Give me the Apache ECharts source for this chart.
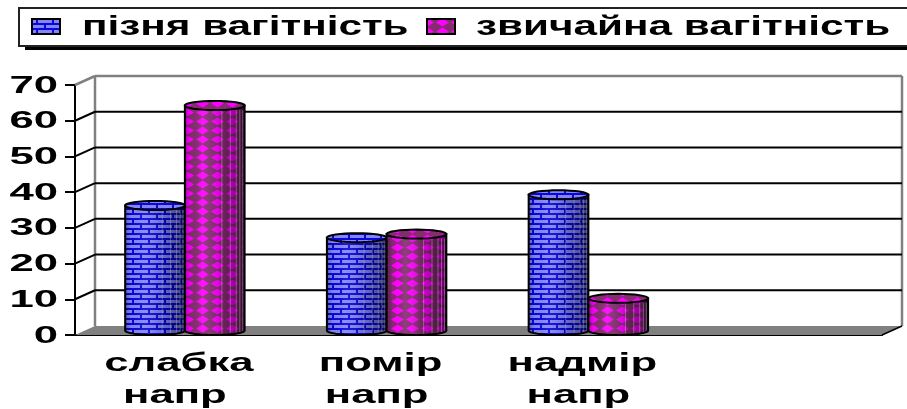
<!DOCTYPE html>
<html>
<head>
<meta charset="utf-8">
<style>html,body{margin:0;padding:0;background:#fff}#chart{width:907px;height:409px}</style>
<script src="https://cdn.jsdelivr.net/npm/echarts@6/dist/echarts.min.js"></script>
</head>
<body>
<div id="chart"></div>
<script>
const categories = ['слабка\nнапр', 'помір\nнапр', 'надмір\nнапр', ''];
const lateName = 'пізня вагітність';
const usualName = 'звичайна вагітність';
const lateValues = [35, 26, 38];
const usualValues = [63, 27, 9];
const yTicks = [0, 10, 20, 30, 40, 50, 60, 70];

const FONT = 'bold 24px "Liberation Sans"';
const DEPTH_X = 20, DEPTH_Y = -9;

// Tiled fills for the two series
function brickPattern() {
  const c = document.createElement('canvas');
  c.width = 16; c.height = 10;
  const g = c.getContext('2d');
  g.fillStyle = '#8585f8'; g.fillRect(0, 0, 16, 10);
  g.fillStyle = '#0808d8';
  g.fillRect(0, 3, 16, 2); g.fillRect(0, 8, 16, 2);
  g.fillRect(4, 0, 2, 3); g.fillRect(12, 5, 2, 3);
  return { image: c, repeat: 'repeat' };
}
function diamondPattern() {
  const c = document.createElement('canvas');
  c.width = 15; c.height = 9;
  const g = c.getContext('2d');
  g.fillStyle = '#852c70'; g.fillRect(0, 0, 15, 9);
  g.fillStyle = '#ff00ff';
  g.beginPath();
  g.moveTo(7.5, 0.5); g.lineTo(14, 4.5); g.lineTo(7.5, 8.5); g.lineTo(1, 4.5);
  g.closePath(); g.fill();
  return { image: c, repeat: 'repeat' };
}
const brick = brickPattern();
const diamond = diamondPattern();

// Back wall, floor and the depth lines running from each tick
function renderWall(params, api) {
  const v = api.value(1);
  const rect = params.coordSys;
  const y = api.coord([0, v])[1];
  const left = rect.x, right = rect.x + rect.width;
  const line = (x1, y1, x2, y2, stroke, w) => ({
    type: 'line', shape: { x1, y1, x2, y2 }, style: { stroke, lineWidth: w }
  });
  const kids = [];
  if (v === 0) {
    kids.push({
      type: 'polygon',
      shape: { points: [[left, y], [right, y], [right + DEPTH_X, y + DEPTH_Y], [left + DEPTH_X, y + DEPTH_Y]] },
      style: { fill: '#808080' }
    });
    const topY = rect.y + DEPTH_Y;
    kids.push(line(left + DEPTH_X, topY, left + DEPTH_X, y + DEPTH_Y, '#808080', 2.5));
    kids.push(line(right + DEPTH_X, topY, right + DEPTH_X, y + DEPTH_Y, '#808080', 2.5));
    kids.push(line(right, y, right + DEPTH_X, y + DEPTH_Y, '#000', 1.5));
  } else if (v === yTicks[yTicks.length - 1]) {
    kids.push(line(left + DEPTH_X, y + DEPTH_Y, right + DEPTH_X, y + DEPTH_Y, '#808080', 2.5));
    kids.push(line(left, y, left + DEPTH_X, y + DEPTH_Y, '#808080', 2.5));
  } else {
    kids.push(line(left + DEPTH_X, y + DEPTH_Y, right + DEPTH_X, y + DEPTH_Y, '#000', 2));
    kids.push(line(left, y, left + DEPTH_X, y + DEPTH_Y, '#000', 2));
  }
  return { type: 'group', children: kids };
}

function arc(cx, cy, rx, ry, from, to) {
  const pts = [];
  for (let i = 0; i <= 32; i++) {
    const a = from + (to - from) * i / 32;
    pts.push([cx + rx * Math.cos(a), cy + ry * Math.sin(a)]);
  }
  return pts;
}

// One cylinder: body, shading, wrap lines and a top cap
function cylinder(fill, seam, centerShift) {
  return function (params, api) {
    const band = api.size([1, 0])[0];
    const base = api.coord([api.value(0), 0]);
    const top = api.coord([api.value(0), api.value(1)]);
    const rx = band * 0.148, ry = 4.5;
    const cx = base[0] + DEPTH_X / 2 - 1 + band * centerShift;
    const by = base[1] + DEPTH_Y / 2, ty = top[1] + DEPTH_Y / 2;
    const body = [[cx - rx, ty], [cx + rx, ty]].concat(arc(cx, by, rx, ry, 0, Math.PI));
    const shade = {
      type: 'linear', x: 0, y: 0, x2: 1, y2: 0,
      colorStops: [
        { offset: 0, color: 'rgba(0,0,0,0.30)' },
        { offset: 0.10, color: 'rgba(0,0,0,0.02)' },
        { offset: 0.30, color: 'rgba(255,255,255,0.08)' },
        { offset: 0.60, color: 'rgba(0,0,0,0.16)' },
        { offset: 0.88, color: 'rgba(0,0,0,0.42)' },
        { offset: 1, color: 'rgba(0,0,0,0.66)' }
      ]
    };
    const kids = [
      { type: 'polygon', shape: { points: body }, style: { fill } },
      { type: 'polygon', shape: { points: body }, style: { fill: shade } }
    ];
    [0.62, 0.76, 0.86, 0.92, 0.97].forEach(f => {
      const x = cx - rx + 2 * rx * f;
      kids.push({
        type: 'line',
        shape: { x1: x, y1: ty + ry, x2: x, y2: by + ry * 0.7 },
        style: { stroke: seam, lineWidth: 1 }
      });
    });
    kids.push({ type: 'polygon', shape: { points: body }, style: { fill: 'none', stroke: '#000', lineWidth: 2 } });
    kids.push({
      type: 'polygon',
      shape: { points: arc(cx, ty, rx, ry, 0, Math.PI * 2) },
      style: { fill, stroke: '#000', lineWidth: 2 }
    });
    return { type: 'group', children: kids };
  };
}

function renderYLabel(params, api) {
  const y = api.coord([0, api.value(1)])[1];
  return {
    type: 'text', x: params.coordSys.x - 17, y: y + 1, scaleX: 1.82,
    style: { text: String(api.value(1)), font: FONT, fill: '#000', align: 'right', verticalAlign: 'middle' }
  };
}
// Two-line category labels; the upper word sits slightly right of the lower one
function renderXLabel(params, api) {
  const i = api.value(0);
  const p = api.coord([i, 0]);
  const lines = categories[i].split('\n');
  return {
    type: 'group',
    children: lines.map((text, n) => ({
      type: 'text', x: p[0] + (n === 0 ? 3 : -1), y: p[1] + 29 + n * 32, scaleX: 1.68,
      style: { text, font: 'bold 26px "Liberation Sans"', fill: '#000', align: 'center', verticalAlign: 'middle' }
    }))
  };
}

const legendText = (text, x) => ({
  type: 'text', x, y: 28, scaleX: 1.565,
  style: { text, font: 'bold 27px "Liberation Sans"', fill: '#000', align: 'left', verticalAlign: 'middle' }
});
const swatch = (x, fill) => ({
  type: 'rect', shape: { x, y: 19, width: 28, height: 15 }, style: { fill, stroke: '#000', lineWidth: 2 }
});

const chart = echarts.init(document.getElementById('chart'), null, { renderer: 'canvas' });
chart.setOption({
  animation: false,
  grid: { left: 75, right: 25, top: 85, bottom: 74 },
  xAxis: {
    type: 'category',
    data: categories,
    axisLine: { lineStyle: { color: '#000', width: 2 } },
    axisTick: { length: 7, lineStyle: { color: '#000', width: 2 } },
    axisLabel: { show: false },
    splitLine: { show: false }
  },
  yAxis: {
    type: 'value', min: 0, max: 70, interval: 10,
    axisLine: { show: true, lineStyle: { color: '#000', width: 2 } },
    axisTick: { show: true, length: 10, lineStyle: { color: '#000', width: 2 } },
    axisLabel: { show: false },
    splitLine: { show: false }
  },
  graphic: [
    { type: 'rect', z: 1, shape: { x: 25, y: 46, width: 890, height: 4 }, style: { fill: '#000' } },
    { type: 'rect', z: 2, shape: { x: 19, y: 8, width: 900, height: 38 }, style: { fill: '#fff', stroke: '#222', lineWidth: 2 } },
    Object.assign(swatch(32, brick), { z: 3 }),
    Object.assign(legendText(lateName, 82), { z: 3 }),
    Object.assign(swatch(427, diamond), { z: 3 }),
    Object.assign(legendText(usualName, 476), { z: 3 })
  ],
  series: [
    { type: 'custom', name: 'wall', z: 1, renderItem: renderWall, encode: { x: 0, y: 1 },
      data: yTicks.map(v => [0, v]) },
    { type: 'custom', name: lateName, z: 3, renderItem: cylinder(brick, 'rgba(210,210,255,0.30)', -0.148),
      encode: { x: 0, y: 1 }, data: lateValues.map((v, i) => [i, v]) },
    { type: 'custom', name: usualName, z: 4, renderItem: cylinder(diamond, 'rgba(255,210,255,0.35)', 0.148),
      encode: { x: 0, y: 1 }, data: usualValues.map((v, i) => [i, v]) },
    { type: 'custom', name: 'yLabels', z: 5, renderItem: renderYLabel, encode: { x: 0, y: 1 },
      data: yTicks.map(v => [0, v]), clip: false },
    { type: 'custom', name: 'xLabels', z: 5, renderItem: renderXLabel, encode: { x: 0, y: 1 },
      data: categories.map((c, i) => [i, 0]), clip: false }
  ]
});
</script>
</body>
</html>
